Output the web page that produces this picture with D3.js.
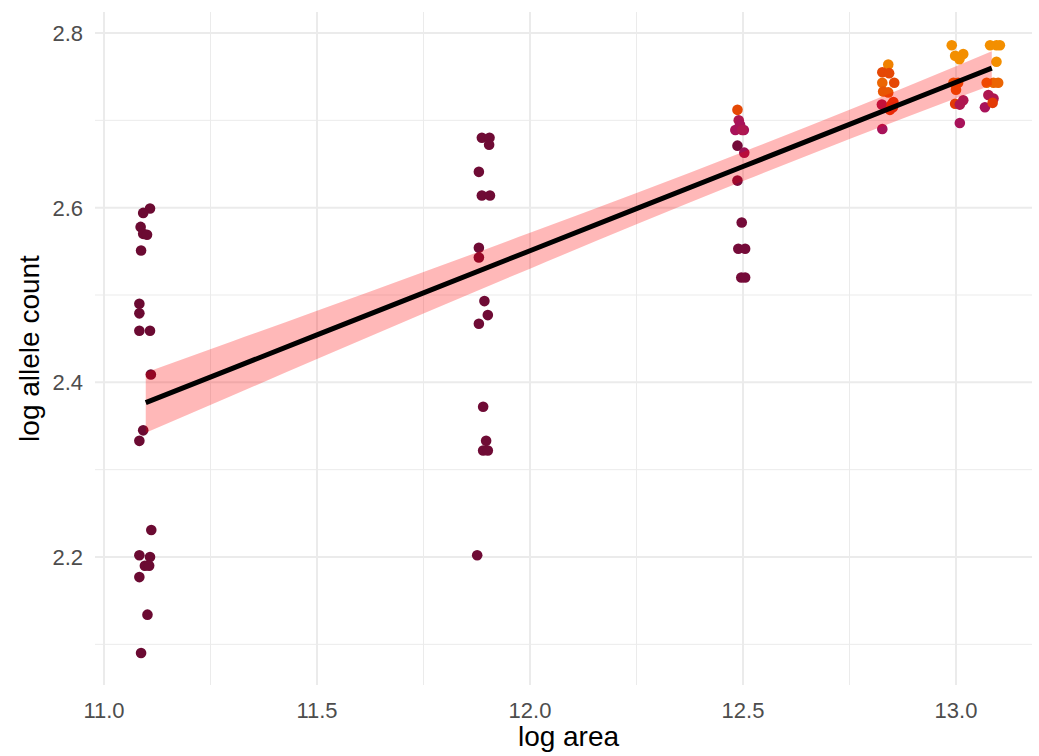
<!DOCTYPE html>
<html>
<head>
<meta charset="utf-8">
<script src="https://cdn.jsdelivr.net/npm/d3@7"></script>
<style>
  body { margin: 0; background: #fff; }
  svg { display: block; font-family: "Liberation Sans", Arial, sans-serif; }
</style>
</head>
<body>
<svg id="chart" width="1039" height="756"></svg>
<script>
// jittered points: log area, log allele count, colour tone (0 = dark, 1 = orange)
const logArea = [
  11.108, 11.092, 11.086, 11.092, 11.101, 11.087, 11.083, 11.083, 11.083, 11.108, 11.110,
  11.092, 11.083, 11.111, 11.083, 11.108, 11.096, 11.106, 11.083, 11.102, 11.087,
  11.887, 11.905, 11.904, 11.880, 11.887, 11.906, 11.880, 11.880, 11.893, 11.901, 11.880,
  11.890, 11.897, 11.890, 11.901, 11.876,
  12.487, 12.490, 12.482, 12.493, 12.502, 12.498, 12.487, 12.503, 12.487, 12.497, 12.489,
  12.505, 12.496, 12.505,
  12.841, 12.827, 12.843, 12.827, 12.855, 12.829, 12.841, 12.826, 12.849, 12.853, 12.845,
  12.852, 12.827,
  12.990, 12.998, 13.017, 13.008, 12.994, 13.005, 13.000, 13.017, 12.998, 13.009, 13.009,
  13.080, 13.095, 13.103, 13.095, 13.072, 13.088, 13.099, 13.076, 13.088, 13.068, 13.086
]
const logAllele = [
  2.599, 2.594, 2.578, 2.570, 2.569, 2.551, 2.490, 2.479, 2.459, 2.459, 2.409,
  2.345, 2.333, 2.231, 2.202, 2.200, 2.190, 2.190, 2.177, 2.134, 2.090,
  2.680, 2.680, 2.672, 2.641, 2.614, 2.614, 2.554, 2.543, 2.493, 2.477, 2.467,
  2.372, 2.333, 2.322, 2.322, 2.202,
  2.712, 2.700, 2.689, 2.695, 2.689, 2.689, 2.671, 2.663, 2.631, 2.583, 2.553,
  2.553, 2.520, 2.520,
  2.764, 2.755, 2.754, 2.743, 2.743, 2.733, 2.732, 2.718, 2.718, 2.721, 2.712,
  2.715, 2.690,
  2.786, 2.774, 2.776, 2.770, 2.743, 2.743, 2.735, 2.723, 2.719, 2.718, 2.697,
  2.786, 2.786, 2.786, 2.767, 2.743, 2.743, 2.743, 2.729, 2.725, 2.715, 2.720
]
const tone = [
  0, 0, 0, 0, 0, 0, 0, 0, 0, 0, 0,
  0, 0, 0, 0, 0, 0, 0, 0, 0, 0,
  0.02, 0.02, 0.02, 0.02, 0.02, 0.02, 0.02, 0.02, 0.02, 0.02, 0.02,
  0.02, 0.02, 0.02, 0.02, 0.02,
  0.75, 0.35, 0.3, 0.3, 0.3, 0.35, 0.05, 0.25, 0.08, 0.05, 0.05,
  0.05, 0.05, 0.05,
  0.95, 0.75, 0.75, 0.85, 0.75, 0.8, 0.8, 0.35, 0.7, 0.7, 0.7,
  0.65, 0.3,
  1, 1, 1, 1, 0.85, 0.8, 0.8, 0.35, 0.7, 0.35, 0.3,
  1, 1, 1, 1, 0.85, 0.85, 0.85, 0.35, 0.35, 0.3, 0.7
]

// linear fit with confidence band
const fitX  = [11.098, 11.3, 11.5, 11.75, 12.0, 12.25, 12.5, 12.75, 13.0, 13.084]
const fitY  = [2.3767, 2.4157, 2.4543, 2.5025, 2.5507, 2.5989, 2.6471, 2.6954, 2.7436, 2.7598]
const fitLo = [2.3422, 2.3847, 2.4266, 2.4787, 2.5302, 2.5809, 2.6304, 2.6786, 2.7252, 2.7406]
const fitHi = [2.4112, 2.4467, 2.4820, 2.5263, 2.5712, 2.6169, 2.6638, 2.7122, 2.7620, 2.7790]

const xMajor = [11, 11.5, 12, 12.5, 13]
const xMinor = [11.25, 11.75, 12.25, 12.75]
const yMajor = [2.2, 2.4, 2.6, 2.8]
const yMinor = [2.1, 2.3, 2.5, 2.7]

const panel = {left: 95, right: 1032, top: 12, bottom: 685}

const x = d3.scaleLinear().domain([11, 13]).range([104, 956])
const y = d3.scaleLinear().domain([2.2, 2.8]).range([557, 33])
const colour = d3.scaleLinear()
  .domain([0, 0.3, 0.7, 1])
  .range(['#6b0a32', '#a8125a', '#e23a06', '#f38f00'])

const svg = d3.select('#chart')
const fmt = d3.format('.1f')

// grid
const grid = svg.append('g')
grid.selectAll('.ymin').data(yMinor).enter().append('line')
  .attr('x1', panel.left).attr('x2', panel.right)
  .attr('y1', d => y(d)).attr('y2', d => y(d))
  .attr('stroke', '#ebebeb').attr('stroke-width', 1)
grid.selectAll('.xmin').data(xMinor).enter().append('line')
  .attr('y1', panel.top).attr('y2', panel.bottom)
  .attr('x1', d => x(d)).attr('x2', d => x(d))
  .attr('stroke', '#ebebeb').attr('stroke-width', 1)
grid.selectAll('.ymaj').data(yMajor).enter().append('line')
  .attr('x1', panel.left).attr('x2', panel.right)
  .attr('y1', d => y(d)).attr('y2', d => y(d))
  .attr('stroke', '#ebebeb').attr('stroke-width', 2)
grid.selectAll('.xmaj').data(xMajor).enter().append('line')
  .attr('y1', panel.top).attr('y2', panel.bottom)
  .attr('x1', d => x(d)).attr('x2', d => x(d))
  .attr('stroke', '#ebebeb').attr('stroke-width', 2)

// points
svg.append('g').selectAll('circle').data(d3.range(logArea.length)).enter().append('circle')
  .attr('cx', i => x(logArea[i]))
  .attr('cy', i => y(logAllele[i]))
  .attr('r', 5.3)
  .attr('fill', i => colour(tone[i]))

// confidence band and fit
const band = fitX.map((v, i) => ({x: v, lo: fitLo[i], hi: fitHi[i], y: fitY[i]}))
svg.append('path').datum(band)
  .attr('d', d3.area().x(d => x(d.x)).y0(d => y(d.lo)).y1(d => y(d.hi)).curve(d3.curveMonotoneX))
  .attr('fill', 'red').attr('fill-opacity', 0.28)
svg.append('path').datum(band)
  .attr('d', d3.line().x(d => x(d.x)).y(d => y(d.y)))
  .attr('fill', 'none').attr('stroke', '#000').attr('stroke-width', 5)

// tick labels
svg.append('g').selectAll('text').data(xMajor).enter().append('text')
  .attr('x', d => x(d)).attr('y', 718)
  .attr('text-anchor', 'middle').attr('font-size', 22).attr('fill', '#4d4d4d')
  .text(fmt)
svg.append('g').selectAll('text').data(yMajor).enter().append('text')
  .attr('x', 83).attr('y', d => y(d) + 8)
  .attr('text-anchor', 'end').attr('font-size', 22).attr('fill', '#4d4d4d')
  .text(fmt)

// axis titles
svg.append('text')
  .attr('x', (panel.left + panel.right) / 2 + 5).attr('y', 746)
  .attr('text-anchor', 'middle').attr('font-size', 28).attr('fill', '#000')
  .text('log area')
svg.append('text')
  .attr('transform', `translate(39,${(panel.top + panel.bottom) / 2}) rotate(-90)`)
  .attr('text-anchor', 'middle').attr('font-size', 28).attr('fill', '#000')
  .text('log allele count')
</script>
</body>
</html>
